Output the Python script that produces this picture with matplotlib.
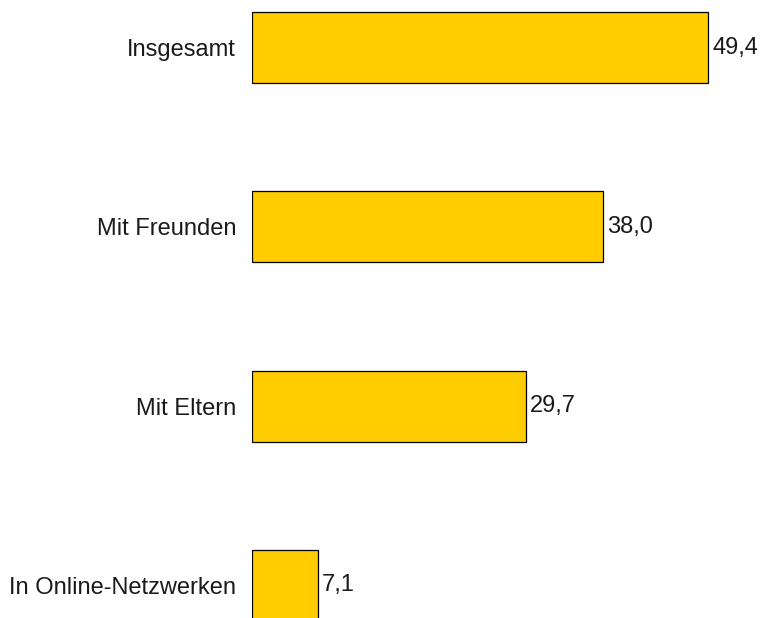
import matplotlib.pyplot as plt
import numpy as np

plt.rcParams['font.family'] = ['Liberation Sans', 'DejaVu Sans']

categories = ["Insgesamt", "Mit Freunden", "Mit Eltern", "In Online-Netzwerken"]
values = [49.4, 38.0, 29.7, 7.1]

fig = plt.figure(figsize=(7.61, 6.18), dpi=100)
# axes placed so that value 0 sits at x=252 px and bars are ~71 px tall
px_per_unit = 9.23
left = 252 / 761
width = 55 * px_per_unit / 761
ax = fig.add_axes([left, 0, width, 1])

y = np.arange(len(categories))
bars = ax.barh(y, values, height=0.396, color='#FFCC00', edgecolor='black', linewidth=0.9)

ax.bar_label(bars, labels=[f"{v:.1f}".replace('.', ',') for v in values],
             padding=3, fontsize=17, color='#1a1a1a')

ax.set_xlim(0, 55)
ax.set_ylim(3.182, -0.265)
ax.set_yticks(y)
ax.set_yticklabels(categories, fontsize=17, color='#1a1a1a')
ax.tick_params(axis='y', length=0, pad=11.5)
ax.set_xticks([])
for s in ax.spines.values():
    s.set_visible(False)

fig.savefig("out.png", dpi=100)
